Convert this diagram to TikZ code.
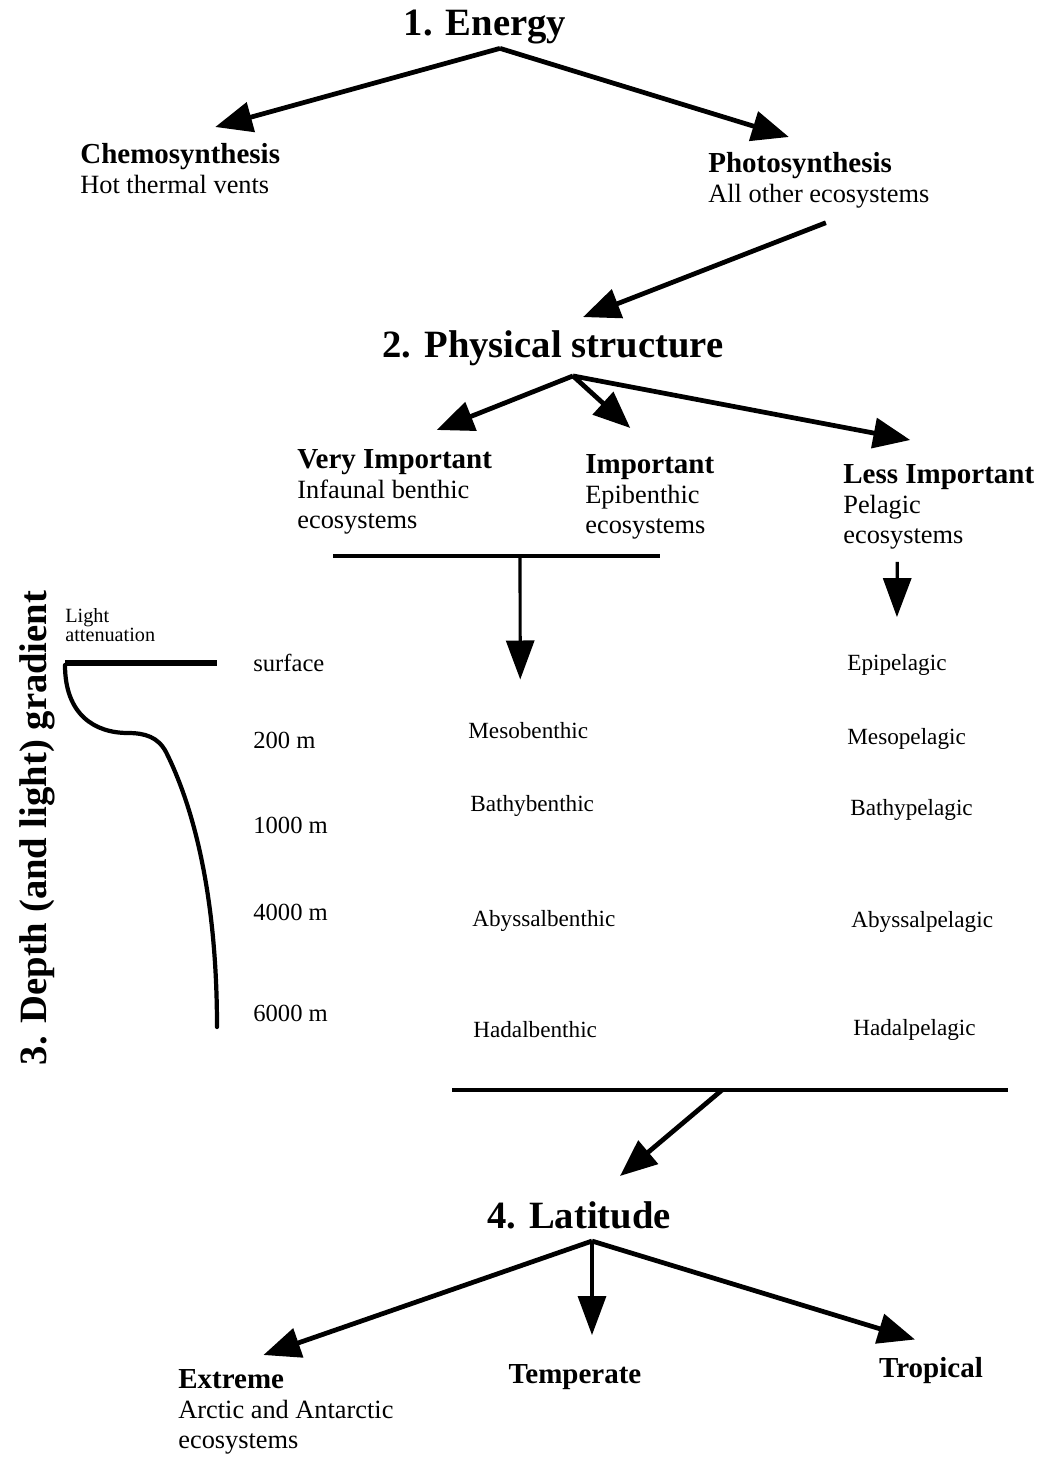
\documentclass[tikz,border=0pt]{standalone}
\usepackage{fontspec}
\setmainfont{Liberation Serif}
\usetikzlibrary{arrows.meta}
\newcommand{\hdline}[1]{{\fontsize{16.5}{17.2}\selectfont\bfseries #1}}
\tikzset{
  head/.style={font=\fontsize{22}{26}\selectfont\bfseries,inner sep=0pt},
  lead/.style={anchor=north west,align=left,inner sep=0pt,
               font=\fontsize{15}{17.2}\selectfont},
  single/.style={inner sep=0pt,font=\fontsize{16.5}{18}\selectfont\bfseries},
  depthlbl/.style={anchor=west,inner sep=0pt,font=\fontsize{14}{16}\selectfont},
  zone/.style={anchor=west,inner sep=0pt,font=\fontsize{13.2}{15}\selectfont},
  arr/.style={-{Triangle[length=0.74cm,width=0.6cm]},line width=2.7pt},
  darr/.style={-{Triangle[length=0.78cm,width=0.56cm]},line width=1.8pt},
  bar/.style={line width=1.9pt},
  lightcurve/.style={line width=2.4pt,line cap=round},
}

\begin{document}
\begin{tikzpicture}[x=0.02cm,y=-0.02cm]
  \useasboundingbox (0,0) rectangle (1055,1457);

  \node[head](energy) at (485,27) {1. Energy};
  \node[lead](chemo)  at (80,143) {\hdline{Chemosynthesis}\\Hot thermal vents};
  \node[lead](photo)  at (708,152) {\hdline{Photosynthesis}\\All other ecosystems};
  \node[head](phys)   at (553,348) {2. Physical structure};
  \node[lead](vimp)   at (297,449) {\hdline{Very Important}\\Infaunal benthic\\ecosystems};
  \node[lead](imp)    at (585,454) {\hdline{Important}\\Epibenthic\\ecosystems};
  \node[lead](less)   at (843,464) {\hdline{Less Important}\\Pelagic\\ecosystems};

  \draw[arr]([shift={(15,4)}]energy.south) -- ([shift={(35,-16)}]chemo.north);
  \draw[arr]([shift={(15,4)}]energy.south) -- ([shift={(-30,-15)}]photo.north);
  \draw[arr]([shift={(7,14)}]photo.south) -- ([shift={(30,-13)}]phys.north);
  \draw[arr]([shift={(20,10)}]phys.south) -- ([shift={(42,-19)}]vimp.north);
  \draw[arr]([shift={(20,10)}]phys.south) -- ([shift={(-19.5,-26)}]imp.north);
  \draw[arr]([shift={(20,10)}]phys.south) -- ([shift={(-28.5,-24)}]less.north);

  % depth gradient
  \node[head,rotate=90](gradient) at (37,828) {3. Depth (and light) gradient};
  \node[anchor=north west,align=left,inner sep=0pt,
        font=\fontsize{11.5}{11}\selectfont](light) at (65,608) {Light\\attenuation};
  \draw[line width=3pt] (65,663) -- (217,663);
  \draw[lightcurve] (65,665) .. controls (65,715) and (95,733) .. (128,733)
        .. controls (145,733) and (158,737) .. (166,752)
        .. controls (195,810) and (217,900) .. (217,1027);

  \node[depthlbl](surf) at (253,663) {surface};
  \node[depthlbl](d200) at (253,740) {200 m};
  \node[depthlbl](d1k)  at (253,825) {1000 m};
  \node[depthlbl](d4k)  at (253,912) {4000 m};
  \node[depthlbl](d6k)  at (253,1013) {6000 m};

  \node[zone](meso)  at (468,731) {Mesobenthic};
  \node[zone](bathy) at (470,806) {Bathybenthic};
  \node[zone](abyss) at (472,921) {Abyssalbenthic};
  \node[zone](hadal) at (473,1030) {Hadalbenthic};

  \node[zone](epip)   at (847,665) {Epipelagic};
  \node[zone](mesop)  at (847,739) {Mesopelagic};
  \node[zone](bathyp) at (850,810) {Bathypelagic};
  \node[zone](abyssp) at (851,922) {Abyssalpelagic};
  \node[zone](hadalp) at (853,1030) {Hadalpelagic};

  \coordinate (benL) at (333,556);
  \coordinate (benR) at (660,556);
  \coordinate (benM) at (520,556);
  \draw[bar](benL) -- (benR);
  \draw[darr](benM) -- ([shift={(-8,-43)}]meso.north);
  \draw[darr]([shift={(-41.5,12)}]less.south) -- ([shift={(0,-37)}]epip.north);

  \coordinate (zoneL) at (452,1090);
  \coordinate (zoneR) at (1008,1090);
  \coordinate (zoneM) at (722,1090);
  \draw[bar](zoneL) -- (zoneR);

  % latitude
  \node[head](lat)     at (579,1215) {4. Latitude};
  \node[lead](extreme) at (178,1369) {\hdline{Extreme}\\Arctic and Antarctic\\ecosystems};
  \node[single](temp)  at (575,1377) {Temperate};
  \node[single](trop)  at (931,1371) {Tropical};

  \draw[arr](zoneM) -- ([shift={(41,-25)}]lat.north);
  \draw[arr]([shift={(13,12)}]lat.south) -- ([shift={(-22.5,-14)}]extreme.north);
  \draw[darr]([shift={(13,12)}]lat.south) -- ([shift={(17,-29)}]temp.north);
  \draw[arr]([shift={(13,12)}]lat.south) -- ([shift={(-16,-18)}]trop.north);
\end{tikzpicture}
\end{document}
